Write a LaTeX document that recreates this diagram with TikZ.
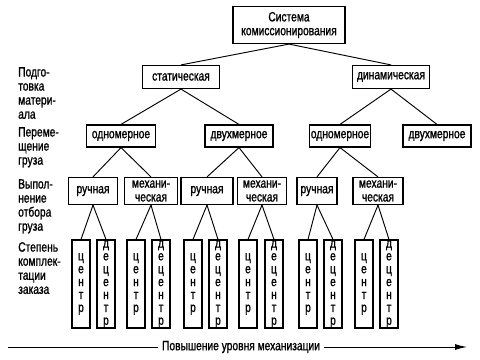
\documentclass[tikz,border=0pt]{standalone}
\usepackage{fontspec}
\setmainfont{Liberation Sans}[FakeStretch=0.76, FakeBold=1.2]
\usetikzlibrary{arrows.meta}
\newcommand{\centr}{ц\\е\\н\\т\\р}
\newcommand{\decentr}{д\\е\\ц\\е\\н\\т\\р}

\begin{document}
\begin{tikzpicture}[x=0.3mm, y=-0.3mm,
		box/.style={draw, line width=1pt, inner sep=1pt, align=center,
			font=\fontsize{11.5}{11.8}\selectfont},
		vbox/.style={draw, line width=1pt, inner sep=0pt, align=center,
			minimum width=5.4mm, minimum height=26.4mm,
			font=\fontsize{11.5}{11}\selectfont},
		side/.style={anchor=north west, inner sep=0pt, align=left,
			font=\fontsize{11.5}{12}\selectfont},
		link/.style={line width=0.8pt}
	]
		\useasboundingbox (0,0) rectangle (480,360);
		% levels of the tree
		\node[box, minimum width=33.6mm, minimum height=11.1mm] (sys) at (289,25) {Система\\комиссионирования};
		\node[box, minimum width=23.1mm, minimum height=6.9mm] (stat) at (181,77) {статическая};
		\node[box, minimum width=23.1mm, minimum height=6.9mm] (dyn) at (391,77) {динамическая};
		\node[box, minimum width=20.7mm, minimum height=6.6mm] (one1) at (121,136) {одномерное};
		\node[box, minimum width=20.4mm, minimum height=6.6mm] (two1) at (239,136) {двухмерное};
		\node[box, minimum width=17.7mm, minimum height=6.6mm] (one2) at (340,136) {одномерное};
		\node[box, minimum width=20.4mm, minimum height=6.6mm] (two2) at (437,136) {двухмерное};
		\node[box, minimum width=14.7mm, minimum height=8.1mm] (r1) at (93,191) {ручная};
		\node[box, minimum width=15.9mm, minimum height=8.1mm] (m1) at (151,191) {механи-\\ческая};
		\node[box, minimum width=15.6mm, minimum height=8.1mm] (r2) at (207,191) {ручная};
		\node[box, minimum width=14.7mm, minimum height=8.1mm] (m2) at (262,191) {механи-\\ческая};
		\node[box, minimum width=12.0mm, minimum height=8.1mm] (r3) at (317,191) {ручная};
		\node[box, minimum width=15.0mm, minimum height=8.1mm] (m3) at (378,191) {механи-\\ческая};
		\foreach \a/\b in {sys/stat,sys/dyn,stat/one1,stat/two1,dyn/one2,dyn/two2,
			one1/r1,one1/m1,two1/r2,two1/m2,one2/r3,one2/m3}
			\draw[link] (\a.south) -- (\b.north);
		\foreach \x/\p/\w [count=\i] in {81/r1/\centr,106/r1/\decentr,136/m1/\centr,161/m1/\decentr,
			193/r2/\centr,218/r2/\decentr,248/m2/\centr,274/m2/\decentr,
			308/r3/\centr,333/r3/\decentr,364/m3/\centr,389/m3/\decentr}
		{
			\node[vbox] (s\i) at (\x,284) {\w};
			\draw[link] (\p.south) -- (s\i.north);
		}
		% level captions
		\node[side] (cap1) at (18,67) {Подго-\\товка\\матери-\\ала};
		\node[side] (cap2) at (18,127) {Переме-\\щение\\груза};
		\node[side] (cap3) at (18,179) {Выпол-\\нение\\отбора\\груза};
		\node[side] (cap4) at (18,242) {Степень\\комплек-\\тации\\заказа};
		% mechanisation axis
		\node[box, draw=none, inner sep=3pt] (axis) at (241,347) {Повышение уровня механизации};
		\coordinate (axl) at (8,347);
		\coordinate (axr) at (467,347);
		\draw[link] (axl) -- (axis.west);
		\draw[link, -{Latex[length=3.6mm, width=1.8mm]}] (axis.east) -- (axr);
	\end{tikzpicture}
\end{document}
